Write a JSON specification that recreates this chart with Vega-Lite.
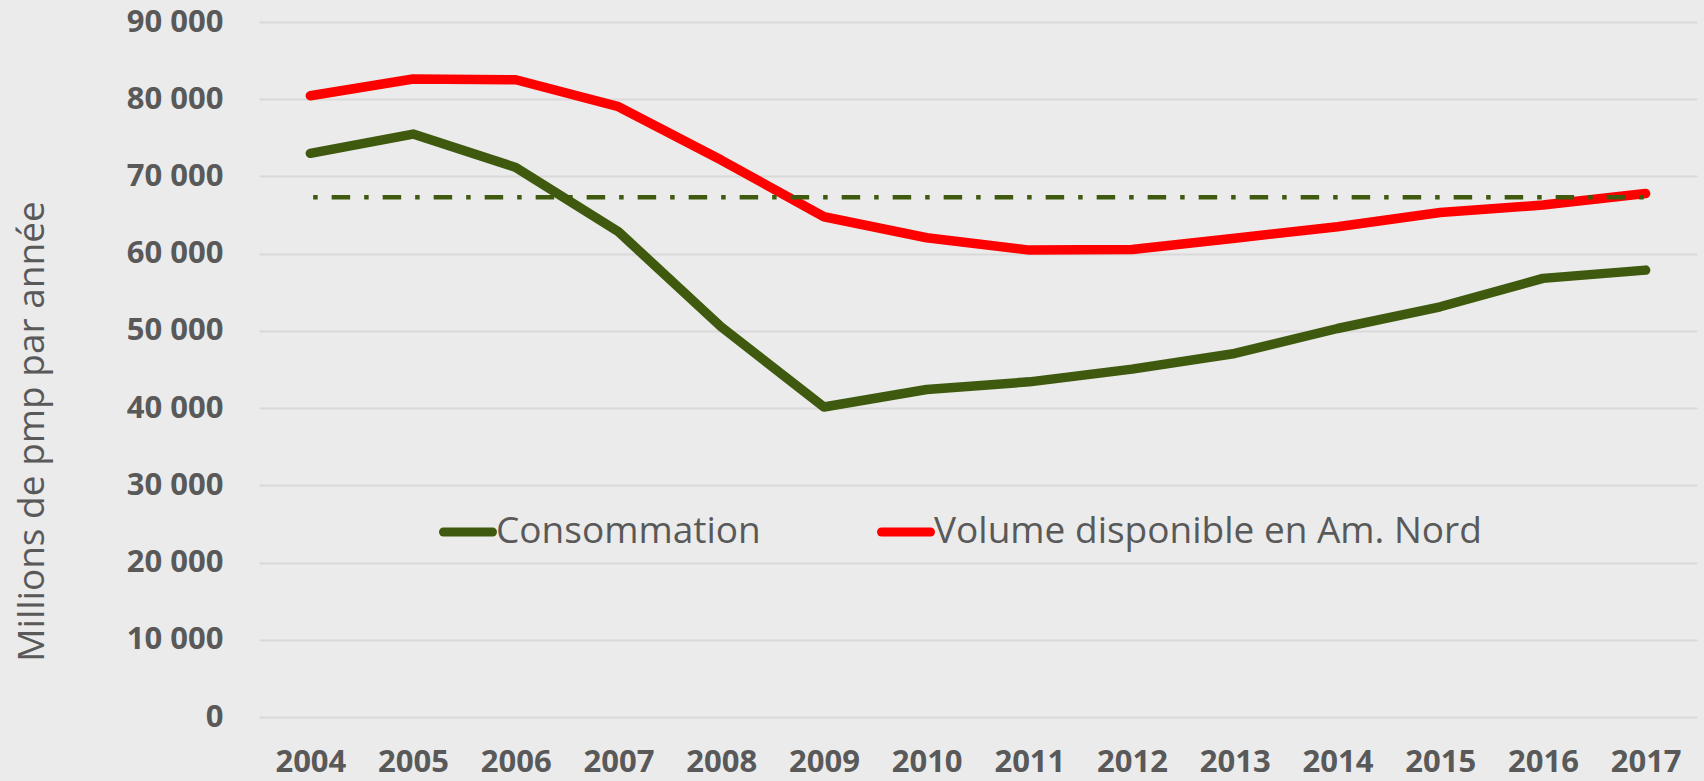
{
  "$schema": "https://vega.github.io/schema/vega-lite/v6.json",
  "width": 1438,
  "height": 695,
  "autosize": "none",
  "padding": {"left": 259, "top": 22, "right": 7, "bottom": 64},
  "background": "#ebebeb",
  "config": {
    "view": {"stroke": null},
    "axis": {
      "labelFont": "Open Sans",
      "labelFontWeight": "bold",
      "labelColor": "#595959",
      "titleFont": "Open Sans",
      "titleFontWeight": "normal",
      "titleColor": "#595959",
      "domain": false,
      "ticks": false,
      "tickSize": 0
    }
  },
  "datasets": {
    "main": [
      {"year": "2004", "serie": "Consommation", "value": 72990},
      {"year": "2005", "serie": "Consommation", "value": 75490},
      {"year": "2006", "serie": "Consommation", "value": 71170},
      {"year": "2007", "serie": "Consommation", "value": 62830},
      {"year": "2008", "serie": "Consommation", "value": 50520},
      {"year": "2009", "serie": "Consommation", "value": 40150},
      {"year": "2010", "serie": "Consommation", "value": 42410},
      {"year": "2011", "serie": "Consommation", "value": 43400},
      {"year": "2012", "serie": "Consommation", "value": 45050},
      {"year": "2013", "serie": "Consommation", "value": 47080},
      {"year": "2014", "serie": "Consommation", "value": 50310},
      {"year": "2015", "serie": "Consommation", "value": 53120},
      {"year": "2016", "serie": "Consommation", "value": 56800},
      {"year": "2017", "serie": "Consommation", "value": 57870},
      {"year": "2004", "serie": "Volume disponible en Am. Nord", "value": 80450},
      {"year": "2005", "serie": "Volume disponible en Am. Nord", "value": 82620},
      {"year": "2006", "serie": "Volume disponible en Am. Nord", "value": 82520},
      {"year": "2007", "serie": "Volume disponible en Am. Nord", "value": 79030},
      {"year": "2008", "serie": "Volume disponible en Am. Nord", "value": 72120},
      {"year": "2009", "serie": "Volume disponible en Am. Nord", "value": 64780},
      {"year": "2010", "serie": "Volume disponible en Am. Nord", "value": 62060},
      {"year": "2011", "serie": "Volume disponible en Am. Nord", "value": 60460},
      {"year": "2012", "serie": "Volume disponible en Am. Nord", "value": 60550},
      {"year": "2013", "serie": "Volume disponible en Am. Nord", "value": 62000},
      {"year": "2014", "serie": "Volume disponible en Am. Nord", "value": 63480},
      {"year": "2015", "serie": "Volume disponible en Am. Nord", "value": 65340},
      {"year": "2016", "serie": "Volume disponible en Am. Nord", "value": 66290},
      {"year": "2017", "serie": "Volume disponible en Am. Nord", "value": 67800}
    ],
    "ref": [
      {"year": "2004", "value": 67300},
      {"year": "2005", "value": 67300},
      {"year": "2006", "value": 67300},
      {"year": "2007", "value": 67300},
      {"year": "2008", "value": 67300},
      {"year": "2009", "value": 67300},
      {"year": "2010", "value": 67300},
      {"year": "2011", "value": 67300},
      {"year": "2012", "value": 67300},
      {"year": "2013", "value": 67300},
      {"year": "2014", "value": 67300},
      {"year": "2015", "value": 67300},
      {"year": "2016", "value": 67300},
      {"year": "2017", "value": 67300}
    ]
  },
  "encoding": {
    "x": {
      "field": "year",
      "type": "ordinal",
      "scale": {"type": "point", "padding": 0.5},
      "axis": {
        "title": null,
        "labelAngle": 0,
        "labelFontSize": 31,
        "labelPadding": 30,
        "grid": false
      }
    },
    "y": {
      "field": "value",
      "type": "quantitative",
      "scale": {"domain": [0, 90000], "nice": false},
      "axis": {
        "title": "Millions de pmp par année",
        "titleFontSize": 37,
        "titleAngle": -90,
        "titleBaseline": "alphabetic",
        "titleX": -216,
        "titleY": 409,
        "titleAlign": "center",
        "values": [0, 10000, 20000, 30000, 40000, 50000, 60000, 70000, 80000, 90000],
        "labelExpr": "replace(format(datum.value, ','), ',', ' ')",
        "labelFontSize": 31,
        "labelPadding": 36,
        "grid": true,
        "gridColor": "#d9d9d9",
        "gridWidth": 2
      }
    }
  },
  "layer": [
    {
      "data": {"name": "main"},
      "mark": {"type": "line", "strokeCap": "round", "strokeJoin": "round", "strokeWidth": 9.5},
      "encoding": {
        "color": {
          "field": "serie",
          "type": "nominal",
          "scale": {
            "domain": ["Consommation", "Volume disponible en Am. Nord"],
            "range": ["#3f5a0f", "#ff0000"]
          },
          "legend": {
            "title": null,
            "orient": "none",
            "legendX": 180,
            "legendY": 481,
            "direction": "horizontal",
            "symbolType": "stroke",
            "symbolSize": 2401,
            "symbolStrokeWidth": 9,
            "labelFont": "Open Sans",
            "labelFontSize": 37,
            "labelColor": "#595959",
            "labelOffset": -1,
            "labelLimit": 1000,
            "columnPadding": 102,
            "padding": 0,
            "encode": {"symbols": {"update": {"strokeCap": {"value": "round"}}}}
          }
        }
      }
    },
    {
      "data": {"name": "ref"},
      "mark": {
        "type": "line",
        "color": "#3f5a0f",
        "strokeWidth": 4.5,
        "strokeCap": "butt",
        "strokeDash": [18.5, 14, 4.5, 14],
        "strokeDashOffset": 29.7
      },
      "encoding": {}
    }
  ]
}
